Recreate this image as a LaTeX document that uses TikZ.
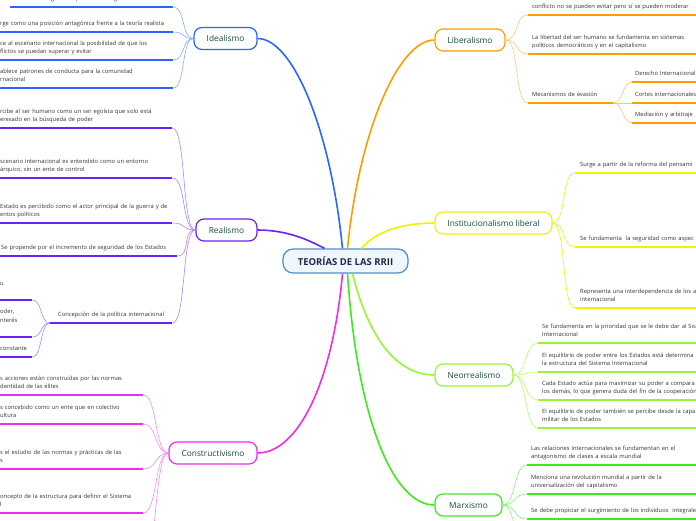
\documentclass[tikz,border=0pt]{standalone}
\usepackage{fontspec}
\setmainfont{Open Sans}
\usetikzlibrary{positioning}
\definecolor{cidea}{HTML}{2B64FF}
\definecolor{clib}{HTML}{FF9C00}
\definecolor{creal}{HTML}{6A22F5}
\definecolor{cinst}{HTML}{F2F200}
\definecolor{cneo}{HTML}{99F533}
\definecolor{ccons}{HTML}{F02CF0}
\definecolor{cmarx}{HTML}{3DEB1A}
\definecolor{ctopic}{HTML}{114D3B}
\definecolor{ccenter}{HTML}{4A8FD4}
\definecolor{ccentertext}{HTML}{1C2B4D}
\newcommand{\leaffont}{\fontsize{5.8}{8.6}\selectfont}
\newcommand{\topicfont}{\fontsize{8.3}{10}\selectfont}

\begin{document}
\begin{tikzpicture}[
  x=1pt, y=-1pt,
  center/.style={draw=ccenter, line width=1.2pt, fill=ccenter!8, rounded corners=10pt, minimum width=125pt, minimum height=24pt, font=\fontsize{9.5}{11}\selectfont\bfseries, text=ccentertext},
  topic/.style={draw, line width=1.2pt, fill=white, rounded corners=8pt, minimum height=22pt, align=center, font=\topicfont, text=ctopic},
  leaf/.style={anchor=south west, align=left, inner xsep=3pt, inner ysep=3.3pt, font=\leaffont, text=black!80, execute at end node={\strut}},
  branch/.style={line width=1.6pt},
  twig/.style={line width=0.6pt},
  ul/.style={line width=1.3pt}
]
\useasboundingbox (0,0) rectangle (696,520);
\clip (0,0) rectangle (696,520);

\node[center] (ctr) at (345.5,261) {TEORÍAS DE LAS RRII};

\node[topic, draw=cidea, minimum width=63pt] (idea) at (225.5,38.5) {Idealismo};
\node[topic, draw=clib, minimum width=70pt] (lib) at (470,40) {Liberalismo};
\node[topic, draw=creal, minimum width=61pt] (real) at (226.5,230) {Realismo};
\node[topic, draw=cinst, minimum width=117pt] (inst) at (493.5,223) {Institucionalismo liberal};
\node[topic, draw=cneo, minimum width=78pt] (neo) at (474,375) {Neorrealismo};
\node[topic, draw=ccons, minimum width=88pt] (cons) at (213,453) {Constructivismo};
\node[topic, draw=cmarx, minimum width=67pt] (marx) at (468.5,505) {Marxismo};

\draw[branch, cidea] ([xshift=-3pt]ctr.north) .. controls +(-12,-120) and +(35,0) .. (idea.east);
\draw[branch, clib] ([xshift=2pt]ctr.north) .. controls +(12,-120) and +(-35,0) .. (lib.west);
\draw[branch, cinst] ([xshift=16pt]ctr.north) .. controls +(15,-18) and +(-30,0) .. (inst.west);
\draw[branch, creal] ([xshift=-21pt]ctr.north) .. controls +(-15,-8) and +(30,0) .. (real.east);
\draw[branch, ccons] ([xshift=-3pt]ctr.south) .. controls +(-10,110) and +(40,0) .. (cons.east);
\draw[branch, cneo] ([xshift=7pt]ctr.south) .. controls +(15,60) and +(-40,0) .. (neo.west);
\draw[branch, cmarx] ([xshift=2pt]ctr.south) .. controls +(10,150) and +(-40,0) .. (marx.west);

% Idealismo
\node[leaf, text width=157pt] (i1) at (10,7) {Evasión de la guerra a partir de la seguridad colectiva};
\node[leaf, text width=170pt] (i2) at (-3,32) {rge como una posición antagónica frente a la teoría realista};
\node[leaf, text width=170pt] (i3) at (-3,60) {ce al escenario internacional la posibilidad de que los\\flictos se puedan superar y evitar};
\node[leaf, text width=170pt] (i4) at (-3,88) {ablece patrones de conducta para la comunidad\\rnacional};
\foreach \n in {i1,i2,i3,i4}{
  \draw[ul, cidea] (\n.south west) -- (\n.south east);
  \draw[twig, cidea!55] (idea.west) .. controls +(-12,0) and +(12,0) .. (\n.south east);
}

% Realismo
\node[leaf, text width=169pt] (r1) at (-3,128) {rcibe al ser humano como un ser egoísta que solo está\\eresado en la búsqueda de poder};
\node[leaf, text width=169pt] (r2) at (-3,178) {scenario internacional es entendido como un entorno\\árquico, sin un ente de control};
\node[leaf, text width=169pt] (r3) at (-3,223) {Estado es percibido como el actor principal de la guerra y de\\entos políticos};
\node[leaf, text width=175pt] (r4) at (-4,256) {\hspace*{2pt}Se propende por el incremento de seguridad de los Estados};
\node[leaf, text width=116pt] (conc) at (50,323) {\hspace*{5pt}Concepción de la política internacional};
\foreach \n in {r1,r2,r3,r4,conc}{
  \draw[ul, creal] (\n.south west) -- (\n.south east);
  \draw[twig, creal!55] (real.west) .. controls +(-14,0) and +(14,0) .. (\n.south east);
}
\node[leaf, text width=29pt] (c1) at (-3,300) {u\\\mbox{}};
\node[leaf, text width=29pt] (c2) at (-3,337) {oder,\\nterés\\\mbox{}};
\node[leaf, text width=29pt] (c3) at (-3,357) {constante};
\foreach \n in {c1,c2,c3}{
  \draw[ul, creal] (\n.south west) -- (\n.south east);
  \draw[twig, creal!55] (conc.south west) .. controls +(-10,0) and +(10,0) .. (\n.south east);
}

% Constructivismo
\node[leaf, text width=140pt] (k1) at (-3,395) {s acciones están construidas por las normas\\dentidad de las élites};
\node[leaf, text width=140pt] (k2) at (-3,424) {s concebido como un ente que en colectivo\\ultura};
\node[leaf, text width=140pt] (k3) at (-3,469) {s el estudio de las normas y prácticas de las\\s};
\node[leaf, text width=140pt] (k4) at (-3,513) {oncepto de la estructura para definir el Sistema\\l};
\coordinate (k5) at (143,565);
\foreach \n in {k1,k2,k3,k4}{
  \draw[ul, ccons] (\n.south west) -- (\n.south east);
  \draw[twig, ccons!55] (cons.west) .. controls +(-14,0) and +(14,0) .. (\n.south east);
}
\draw[twig, ccons!55] (cons.west) .. controls +(-14,0) and +(14,0) .. (k5);

% Liberalismo
\node[leaf, text width=200pt, inner xsep=4pt] (l1) at (528,15) {conflicto no se pueden evitar pero sí se pueden moderar};
\node[leaf, text width=200pt, inner xsep=4pt] (l2) at (528,54) {La libertad del ser humano se fundamenta en sistemas\\políticos democráticos y en el capitalismo};
\node[leaf, text width=77pt, inner xsep=4pt] (mec) at (528,103) {Mecanismos de evasión};
\foreach \n in {l1,l2,mec}{
  \draw[ul, clib] (\n.south west) -- (\n.south east);
  \draw[twig, clib!55] (lib.east) .. controls +(14,0) and +(-14,0) .. (\n.south west);
}
\node[leaf, text width=100pt] (m1) at (632,82) {Derecho Internacional};
\node[leaf, text width=100pt] (m2) at (632,103) {Cortes internacionales};
\node[leaf, text width=100pt] (m3) at (632,123) {Mediación y arbitraje};
\foreach \n in {m1,m2,m3}{
  \draw[ul, clib] (\n.south west) -- (\n.south east);
  \draw[twig, clib!55] (mec.south east) .. controls +(10,0) and +(-10,0) .. (\n.south west);
}

% Institucionalismo liberal
\node[leaf, text width=200pt, inner xsep=5pt] (s1) at (575,173) {Surge a partir de la reforma del pensami};
\node[leaf, text width=200pt, inner xsep=5pt] (s2) at (575,247) {Se fundamenta\ \ la seguridad como aspec};
\node[leaf, text width=200pt, inner xsep=5pt] (s3) at (575,308) {Representa una interdependencia de los a\\internacional};
\foreach \n in {s1,s2,s3}{
  \draw[ul, cinst] (\n.south west) -- (\n.south east);
  \draw[twig, cinst] (inst.east) .. controls +(14,0) and +(-14,0) .. (\n.south west);
}

% Neorrealismo
\node[leaf, text width=200pt, inner xsep=4pt] (n1) at (538,343) {Se fundamenta en la prioridad que se le debe dar al Sis\\Internacional};
\node[leaf, text width=200pt, inner xsep=4pt] (n2) at (538,372) {El equilibrio de poder entre los Estados está determina\\la estructura del Sistema Internacional};
\node[leaf, text width=200pt, inner xsep=4pt] (n3) at (538,400) {Cada Estado actúa para maximizar su poder a compara\\los demás, lo que genera duda del fin de la cooperación};
\node[leaf, text width=200pt, inner xsep=4pt] (n4) at (538,428) {El equilibrio de poder también se percibe desde la capa\\militar de los Estados};
\foreach \n in {n1,n2,n3,n4}{
  \draw[ul, cneo] (\n.south west) -- (\n.south east);
  \draw[twig, cneo!70] (neo.east) .. controls +(14,0) and +(-14,0) .. (\n.south west);
}

% Marxismo
\node[leaf, text width=200pt, inner xsep=4pt] (x1) at (527,465) {Las relaciones internacionales se fundamentan en el\\antagonismo de clases a escala mundial};
\node[leaf, text width=200pt, inner xsep=4pt] (x2) at (527,494) {Menciona una revolución mundial a partir de la\\universalización del capitalismo};
\node[leaf, text width=200pt, inner xsep=4pt] (x3) at (527,519) {Se debe propiciar el surgimiento de los individuos\ \ integrales};
\coordinate (x4) at (527,550);
\foreach \n in {x1,x2,x3}{
  \draw[ul, cmarx] (\n.south west) -- (\n.south east);
  \draw[twig, cmarx!60] (marx.east) .. controls +(14,0) and +(-14,0) .. (\n.south west);
}
\draw[twig, cmarx!60] (marx.east) .. controls +(14,0) and +(-14,0) .. (x4);
\end{tikzpicture}
\end{document}
